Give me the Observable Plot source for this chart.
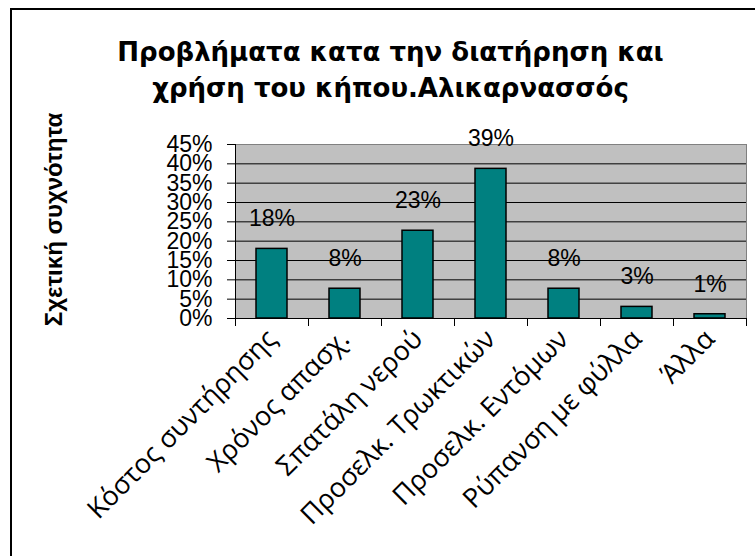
<!DOCTYPE html>
<html>
<head>
<meta charset="utf-8">
<script src="https://cdn.jsdelivr.net/npm/d3@7"></script>
<script src="https://cdn.jsdelivr.net/npm/@observablehq/plot@0.6"></script>
<style>
  html, body { margin: 0; padding: 0; background: #fff; overflow: hidden; }
  #wrap { position: relative; width: 755px; height: 556px; overflow: hidden; }
  #wrap svg { position: absolute; left: 0; top: 0; }
  #border { position: absolute; left: 10px; top: 8px; width: 800px; height: 600px;
            border: 2px solid #000; box-sizing: border-box; pointer-events: none; }
</style>
</head>
<body>
<div id="wrap"></div>
<script>
// ---- data ----
const categories = ["Κόστος συντήρησης", "Χρόνος απασχ.", "Σπατάλη νερού", "Προσελκ. Τρωκτικών", "Προσελκ. Εντόμων", "Ρύπανση με φύλλα", "Άλλα"];
const values = [0.18, 0.077, 0.227, 0.387, 0.077, 0.03, 0.011];
const yTicks = [0, 0.05, 0.10, 0.15, 0.20, 0.25, 0.30, 0.35, 0.40, 0.45];
const titleLines = ["Προβλήματα κατα την διατήρηση και", "χρήση του κήπου.Αλικαρνασσός"];
const yLabel = "Σχετική συχνότητα";

// ---- layout ----
const W = 755, H = 556;
const mL = 235, mR = 9, mT = 144, mB = 238;
const step = (W - mL - mR) / categories.length;
const pct = d3.format(".0%");
const data = categories.map((c, i) => ({cat: c, value: values[i]}));
const arial = "'Liberation Sans', Arial, sans-serif";
const titleSize = 26, titleLH = 36 / 26;

const chart = Plot.plot({
  width: W, height: H,
  marginLeft: mL, marginRight: mR, marginTop: mT, marginBottom: mB,
  style: {fontFamily: arial, fontSize: "23px", background: "transparent", overflow: "visible"},
  x: {domain: categories, paddingInner: 0.58, paddingOuter: 0.29, axis: null},
  y: {domain: [0, 0.45], axis: null},
  marks: [
    Plot.frame({fill: "#c0c0c0", stroke: "#808080"}),
    Plot.gridY(yTicks.slice(1, -1), {stroke: "#000", strokeOpacity: 1, strokeWidth: 1}),
    Plot.barY(data, {x: "cat", y: "value", fill: "#008080", stroke: "#000", strokeWidth: 1.5}),
    Plot.ruleY([0], {stroke: "#000", strokeWidth: 1}),
    // left axis line (also the first category boundary tick)
    Plot.ruleX([categories[0]], {x: d => d, y1: 0.45, y2: 0, dx: -step / 2, insetBottom: -8, stroke: "#000"}),
    // category boundary ticks below the baseline
    Plot.ruleX(categories.slice(1), {x: d => d, y1: 0, y2: 0, dx: -step / 2, insetBottom: -8, stroke: "#000"}),
    Plot.ruleX([categories[categories.length - 1]], {x: d => d, y1: 0, y2: 0, dx: step / 2, insetBottom: -8, stroke: "#000"}),
    Plot.axisY(yTicks, {tickFormat: pct, tickSize: 8, tickPadding: 15, fontSize: 23, fontFamily: arial, label: null, stroke: "#000", fill: "#000"}),
    Plot.axisX({tickSize: 0, tickRotate: -45, tickPadding: 16, fontSize: 27, fontFamily: "'Open Sans', sans-serif", label: null, fill: "#000"}),
    Plot.text(data, {x: "cat", y: "value", text: d => pct(d.value), dy: -30, fontSize: 23, fontFamily: arial, fill: "#000"}),
    Plot.text([yLabel], {frameAnchor: "left", textAnchor: "middle", rotate: -90, dx: -181, dy: -12, fontSize: 24, fontWeight: "bold", fontFamily: arial, fill: "#000"}),
    Plot.text([titleLines.join("\n")], {frameAnchor: "top", textAnchor: "middle", lineAnchor: "top", lineHeight: titleLH,
      dx: 390 - (mL + (W - mL - mR) / 2), dy: (61 - 0.71 * titleLH * titleSize) - mT,
      fontSize: titleSize, fontWeight: "bold", fontFamily: "'DejaVu Sans', sans-serif", fill: "#000"})
  ]
});
const wrap = document.getElementById("wrap");
wrap.appendChild(chart);
const b = document.createElement("div");
b.id = "border";
wrap.appendChild(b);
</script>
</body>
</html>
